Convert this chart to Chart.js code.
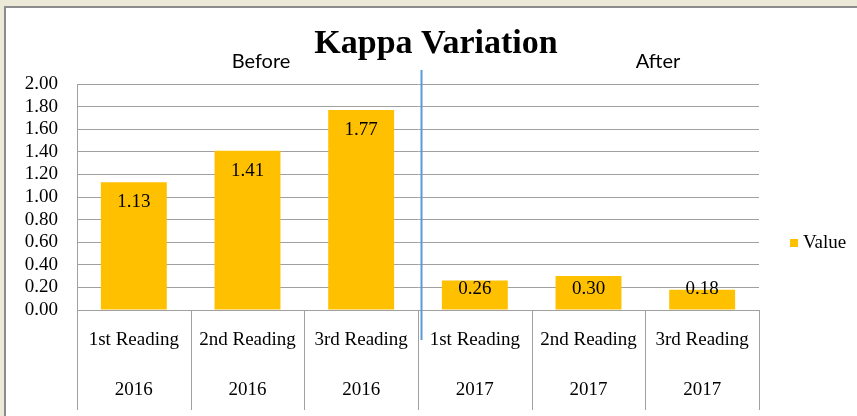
<!DOCTYPE html>
<html>
<head>
<meta charset="utf-8">
<script src="https://cdn.jsdelivr.net/npm/chart.js@4.4.0/dist/chart.umd.min.js"></script>
<style>
  body { margin: 0; background: #ECE9D8; }
  #frame {
    position: absolute; left: 4px; top: 6px;
    width: 851px; height: 408px;
    border-left: 2px solid #8c8c8c; border-top: 2px solid #8c8c8c;
    background: #fff;
  }
</style>
</head>
<body>
<div id="frame"><canvas id="kappa"></canvas></div>
<script>
// Kappa values, before (2016) and after (2017)
const readings = ["1st Reading", "2nd Reading", "3rd Reading", "1st Reading", "2nd Reading", "3rd Reading"];
const years = ["2016", "2016", "2016", "2017", "2017", "2017"];
const values = [1.13, 1.41, 1.77, 0.26, 0.30, 0.18];
const yTicks = [0, 0.2, 0.4, 0.6, 0.8, 1.0, 1.2, 1.4, 1.6, 1.8, 2.0];

const SERIF = "'Liberation Serif', 'Times New Roman', serif";
const GRID = "#a0a0a0";
const BAR = "#FFC000";

// extra drawing: title, Before/After, divider, separators, value labels, legend
const decorations = {
  id: "decorations",
  afterDatasetsDraw(chart) {
    const { ctx, chartArea } = chart;
    const x = chart.scales.x;
    const meta = chart.getDatasetMeta(0);
    ctx.save();

    // value labels near the top of each bar
    ctx.fillStyle = "#000";
    ctx.font = "19px " + SERIF;
    ctx.textAlign = "center";
    ctx.textBaseline = "middle";
    meta.data.forEach((bar, i) => {
      const cy = Math.min(bar.y + 20, bar.base - 20);
      ctx.fillText(values[i].toFixed(2), bar.x, cy);
    });

    // category separators below the axis
    ctx.strokeStyle = GRID;
    ctx.lineWidth = 1;
    const half = (x.getPixelForValue(1) - x.getPixelForValue(0)) / 2;
    for (let i = 0; i <= readings.length; i++) {
      const px = Math.round(x.getPixelForValue(0) - half + i * 2 * half) + 0.5;
      ctx.beginPath();
      ctx.moveTo(px, chartArea.bottom);
      ctx.lineTo(px, chart.height - 6);
      ctx.stroke();
    }

    // divider between before and after
    const divX = Math.round(x.getPixelForValue(2) + half) + 3.5;
    ctx.strokeStyle = "#5B9BD5";
    ctx.lineWidth = 2;
    ctx.beginPath();
    ctx.moveTo(divX, chartArea.top - 14);
    ctx.lineTo(divX, chartArea.bottom + 30);
    ctx.stroke();

    // title
    ctx.fillStyle = "#000";
    ctx.font = "bold 34px " + SERIF;
    ctx.fillText("Kappa Variation", 430, 36);

    // Before / After
    ctx.font = "20px Lato, 'Liberation Sans', sans-serif";
    ctx.fillText("Before", 255, 54);
    ctx.fillText("After", 652, 54);

    // legend
    const ly = (chartArea.top + chartArea.bottom) / 2 + 46;
    ctx.fillStyle = BAR;
    ctx.fillRect(784, ly - 4, 8, 8);
    ctx.fillStyle = "#000";
    ctx.font = "19px " + SERIF;
    ctx.textAlign = "left";
    ctx.fillText(chart.data.datasets[0].label, 797, ly);

    ctx.restore();
  }
};

new Chart(document.getElementById("kappa"), {
  type: "bar",
  data: {
    labels: readings.map((r, i) => [r, years[i]]),
    datasets: [
      {
        label: "Value",
        data: values,
        backgroundColor: BAR,
        barPercentage: 0.58,
        categoryPercentage: 1.0,
      },
    ],
  },
  options: {
    responsive: true,
    maintainAspectRatio: false,
    animation: false,
    layout: { padding: { top: 76, right: 98, left: 0, bottom: 0 } },
    plugins: {
      legend: { display: false },
      title: { display: false },
      tooltip: { enabled: false },
    },
    scales: {
      x: {
        grid: { display: false },
        border: { display: true, color: GRID },
        ticks: {
          color: "#000",
          padding: -3,
          maxRotation: 0,
          autoSkip: false,
          font: { family: SERIF, size: 19, lineHeight: 50 / 19 },
        },
        afterFit(scale) { scale.height = 106; },
      },
      y: {
        min: 0,
        max: 2,
        afterBuildTicks(scale) { scale.ticks = yTicks.map(v => ({ value: v })); },
        grid: { color: GRID, drawTicks: false },
        border: { display: true, color: GRID },
        ticks: {
          color: "#000",
          padding: 19,
          autoSkip: false,
          font: { family: SERIF, size: 19 },
          callback: v => v.toFixed(2),
        },
        afterFit(scale) { scale.width = 71; },
      },
    },
  },
  plugins: [decorations],
});
</script>
</body>
</html>
